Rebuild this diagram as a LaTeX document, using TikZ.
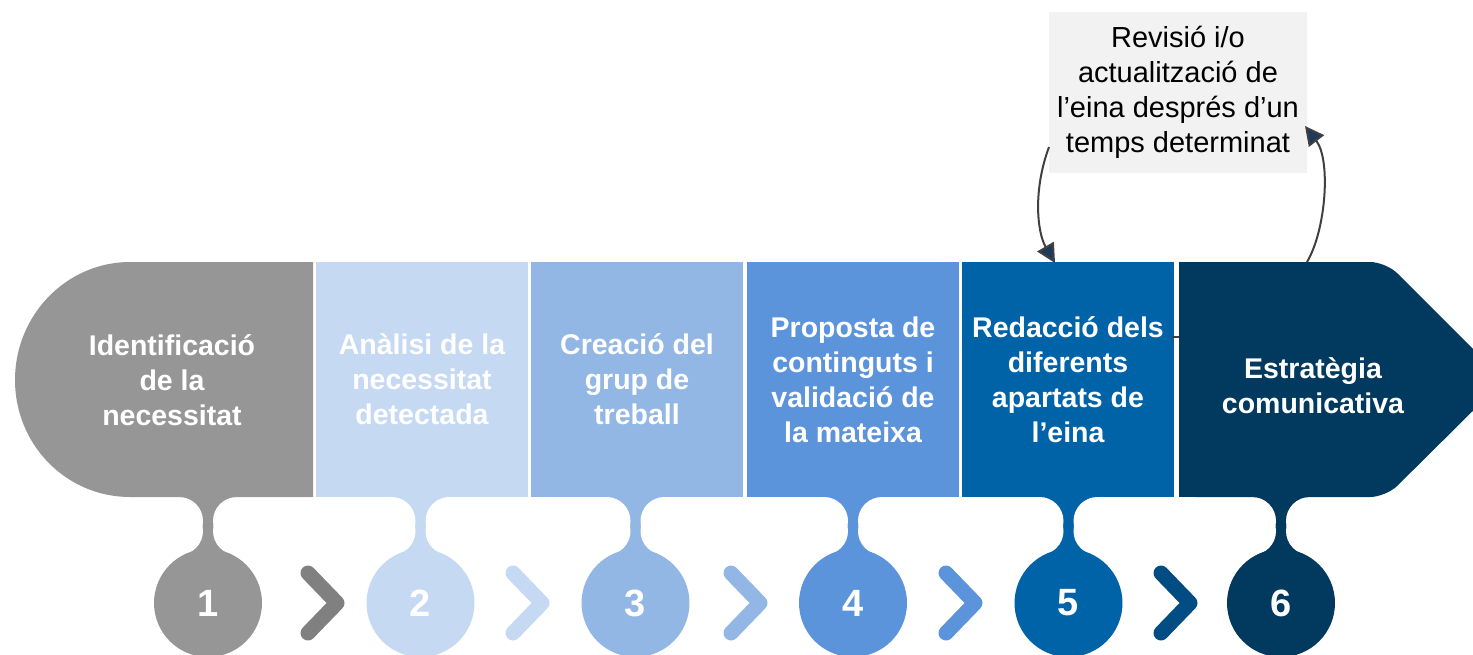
\documentclass[tikz,border=0pt]{standalone}
\usepackage{fontspec}
\setmainfont{Liberation Sans}
\usetikzlibrary{arrows.meta}
\definecolor{cA}{RGB}{150,150,150}
\definecolor{cB}{RGB}{198,217,242}
\definecolor{cC}{RGB}{146,183,228}
\definecolor{cD}{RGB}{92,148,219}
\definecolor{cE}{RGB}{0,99,168}
\definecolor{cF}{RGB}{2,57,95}
\definecolor{chA}{RGB}{128,128,128}
\definecolor{chE}{RGB}{1,76,130}
\definecolor{revgray}{RGB}{242,242,242}
\definecolor{arrline}{RGB}{64,64,64}
\definecolor{arrhead}{RGB}{28,58,94}
\begin{document}
\begin{tikzpicture}[x=1pt,y=-1pt,
  boxtxt/.style={text=white,font=\bfseries\fontsize{28.5}{35}\selectfont,align=center,inner sep=0pt},
  boxnode/.style={boxtxt,minimum width=212pt,minimum height=235pt,anchor=center},
  numnode/.style={circle,minimum size=108pt,inner sep=0pt,text=white,font=\bfseries\fontsize{38}{38}\selectfont},
  chev/.style={line width=15pt,line cap=round,line join=round},
  loopline/.style={arrline,line width=2pt,-{Triangle[length=19pt,width=19pt,fill=arrhead]}}]
\useasboundingbox (0,0) rectangle (1473,654);
\clip (0,0) rectangle (1473,654);
% stems
\foreach \cx/\col in {208/cA,420.5/cB,635.5/cC,853/cD,1068.5/cE,1281/cF}{
  \fill[\col] (\cx-29,497) -- (\cx+29,497) -- (\cx+29,531) -- (\cx,603) -- (\cx-29,531) -- cycle;
  \fill[white] (\cx-29,521) circle[radius=24];
  \fill[white] (\cx+29,521) circle[radius=24];
  \fill[white] (\cx-29,531) circle[radius=24];
  \fill[white] (\cx+29,531) circle[radius=24];
}
% box 1
\fill[cA] (313,262) -- (130,262) .. controls (66.5,262) and (15,315) .. (15,380)
   .. controls (15,445) and (66.5,497) .. (130,497) -- (313,497) -- cycle;
\node[boxtxt] (t1) at (172,380) {Identificació\\de la\\necessitat};
% boxes 2-5
\node[boxnode,fill=cB] (b2) at (422,379.5) {Anàlisi de la\\necessitat\\detectada};
\node[boxnode,fill=cC] (b3) at (637,379.5) {Creació del\\grup de\\treball};
\node[boxnode,fill=cD] (b4) at (853,379.5) {Proposta de\\continguts i\\validació de\\la mateixa};
\node[boxnode,fill=cE] (b5) at (1068,379.5) {Redacció dels\\diferents\\apartats de\\l’eina};
% box 6
\fill[cF,rounded corners=16] (1179,262) -- (1386,262) -- (1504,380) -- (1386,497) -- (1179,497) -- cycle;
\fill[cF] (1179,262) rectangle (1300,497);
\node[boxtxt] (t6) at (1313,386) {Estratègia\\comunicativa};
% numbered circles
\foreach \i/\cx/\col in {1/208/cA,2/420.5/cB,3/635.5/cC,4/853/cD,5/1068.5/cE,6/1281/cF}{
  \node[numnode,fill=\col] (n\i) at (\cx,603) {\i};
}
% chevrons
\foreach \x/\col in {300/chA,505/cB,723/cC,938/cD,1153/chE}{
  \draw[chev,\col] (\x+8,573) -- (\x+37,603) -- (\x+8,633);
}
% revision box
\node[fill=revgray,minimum width=258pt,minimum height=161pt,inner sep=0pt,
      font=\fontsize{29}{35}\selectfont,align=center] (rev) at (1178,92.5)
      {Revisió i/o\\actualització de\\l’eina després d’un\\temps determinat};
\coordinate (a1s) at (1049,147);
\coordinate (a1e) at (1055,263);
\coordinate (a2s) at (1307,262);
\coordinate (a2e) at (1305,126);
\draw[loopline] (a1s) .. controls (1033,190) and (1037,232) .. (a1e);
\draw[loopline] (a2s) .. controls (1326,230) and (1331,160) .. (a2e);
\coordinate (d1) at (1172,337);
\coordinate (d2) at (1179,337);
\draw[arrline,line width=1.5pt] (d1) -- (d2);
\end{tikzpicture}
\end{document}
